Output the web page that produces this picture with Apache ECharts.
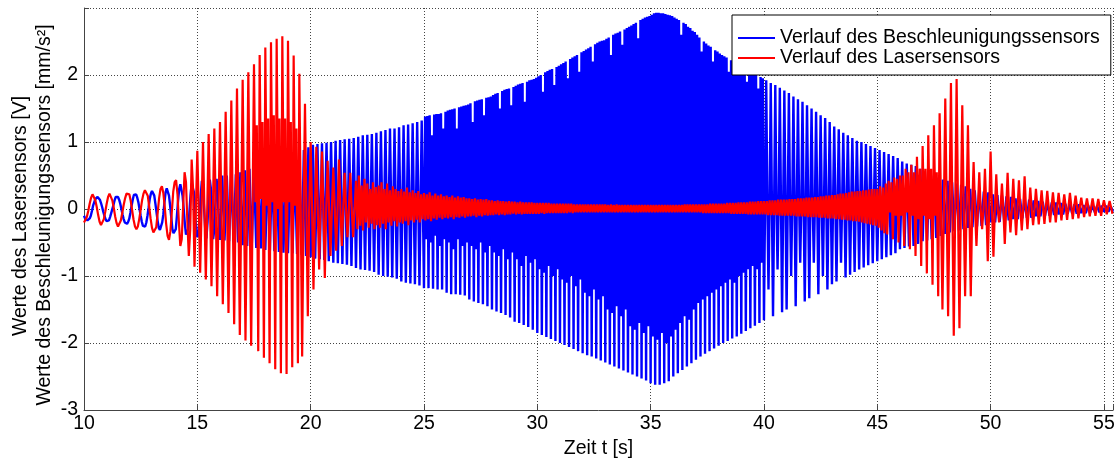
<!DOCTYPE html>
<html><head><meta charset="utf-8">
<script src="https://cdn.jsdelivr.net/npm/echarts@6/dist/echarts.min.js"></script>
<style>html,body{margin:0;padding:0;background:#fff}#c{width:1119px;height:464px}</style>
</head><body><div id="c"></div>
<script>
// ---- data ----
const tStart = 10;          // s, first sample
const tEnd = 55.4;          // s, x-axis end
const accelDt = 0.05;       // s, sample spacing of the acceleration trace
const laserDt = 0.0625;     // s, sample spacing of the laser trace
const xTicks = [10, 15, 20, 25, 30, 35, 40, 45, 50, 55];
const yTicks = [-3, -2, -1, 0, 1, 2];
const seriesNames = ['Verlauf des Beschleunigungssensors', 'Verlauf des Lasersensors'];

// Beschleunigungssensor (blue), one row per second (20 samples)
const accel = [
-0.1,-0.14,-0.16,-0.17,-0.17,-0.14,-0.1,-0.03,0.05,0.1,0.15,0.17,0.18,0.17,0.14,0.09,0.03,-0.04,-0.1,-0.15,
-0.18,-0.19,-0.17,-0.12,-0.06,0,0.06,0.13,0.18,0.19,0.18,0.14,0.08,0,-0.08,-0.15,-0.2,-0.22,-0.22,-0.19,
-0.14,-0.05,0.05,0.14,0.21,0.23,0.22,0.17,0.1,0,-0.1,-0.19,-0.25,-0.27,-0.26,-0.2,-0.1,0.02,0.15,0.23,
0.27,0.27,0.2,0.08,-0.05,-0.18,-0.28,-0.31,-0.3,-0.2,-0.08,0.1,0.25,0.31,0.3,0.2,0.05,-0.12,-0.3,-0.36,
-0.36,-0.3,-0.1,0.12,0.3,0.37,0.36,0.2,0,-0.22,-0.38,-0.4,-0.3,-0.05,0.2,0.38,0.4,0.25,-0.05,-0.3,
-0.42,-0.38,-0.1,0.2,0.42,0.3,0,-0.3,-0.44,-0.2,0.15,0.44,0.3,-0.1,-0.45,-0.3,0.1,0.45,0.2,-0.2,
-0.46,0,0.5,0,-0.47,0,0.5,0,-0.48,0,0.52,0,-0.5,0,0.52,0,-0.5,0,0.55,0,
-0.54,0,0.58,0,-0.55,0,0.6,0,-0.57,0,0.6,0,-0.58,0,0.62,0,-0.59,0,0.64,0,
-0.61,0,0.68,0,-0.62,0,0.7,0,-0.63,0,0.72,0,-0.64,0,0.74,0,-0.65,0,0.76,0,
-0.66,0,0.8,0,-0.66,0,0.82,0,-0.67,0,0.85,0,-0.68,0,0.88,0,-0.7,0.1,0.92,0.1,
-0.72,0.1,0.96,0.1,-0.74,0.1,0.97,0.1,-0.75,0.1,0.98,0.1,-0.76,0.1,0.99,0.1,-0.78,0.1,1.0,0.1,
-0.8,0.1,1.02,0.1,-0.81,0.1,1.03,0.1,-0.82,0.1,1.04,0.1,-0.83,0.1,1.05,0.1,-0.85,0.1,1.06,0.1,
-0.88,0.1,1.08,0.1,-0.9,0.1,1.1,0.1,-0.91,0.1,1.11,0.1,-0.92,0.1,1.12,0.1,-0.94,0.1,1.14,0.1,
-0.98,0.1,1.16,0.1,-1.0,0.1,1.18,0.1,-1.01,0.1,1.2,0.1,-1.02,0.1,1.2,0.1,-1.04,0.1,1.22,0.1,
-1.08,0.1,1.25,0.1,-1.1,0.1,1.26,0.1,-1.11,0.1,1.28,0.1,-1.12,0.1,1.3,0.1,-1.14,0.1,1.32,0.1,
-1.18,1.38,-0.45,1.39,-1.18,1.4,-0.5,1.1,-1.19,1.41,-0.4,1.42,-1.2,1.42,-0.55,1.43,-1.2,1.2,-0.45,1.45,
-1.25,1.47,-0.5,1.48,-1.27,1.49,-0.6,1.5,-1.27,1.2,-0.45,1.52,-1.28,1.53,-0.55,1.54,-1.29,1.55,-0.5,1.56,
-1.35,1.58,-0.55,1.3,-1.38,1.61,-0.6,1.62,-1.4,1.63,-0.5,1.64,-1.42,1.4,-0.65,1.66,-1.45,1.67,-0.55,1.68,
-1.5,1.7,-0.65,1.72,-1.53,1.73,-0.7,1.5,-1.55,1.76,-0.6,1.78,-1.58,1.79,-0.75,1.8,-1.62,1.55,-0.65,1.82,
-1.68,1.84,-0.75,1.86,-1.7,1.87,-0.85,1.88,-1.73,1.6,-0.7,1.9,-1.76,1.92,-0.8,1.93,-1.8,1.94,-0.75,1.96,
-1.85,1.98,-0.9,2.0,-1.88,1.75,-0.95,2.04,-1.91,2.06,-0.85,2.08,-1.94,2.09,-1.0,1.85,-1.97,2.12,-0.9,2.14,
-2.0,2.16,-1.05,2.18,-2.03,2.2,-1.1,1.95,-2.06,2.24,-1.0,2.26,-2.09,2.28,-1.15,2.3,-2.12,2.05,-1.05,2.34,
-2.15,2.36,-1.25,2.38,-2.18,2.4,-1.3,2.42,-2.2,2.2,-1.2,2.46,-2.23,2.48,-1.35,2.5,-2.26,2.51,-1.3,2.52,
-2.29,2.54,-1.5,2.56,-2.32,2.3,-1.55,2.6,-2.35,2.62,-1.45,2.63,-2.38,2.65,-1.6,2.45,-2.41,2.68,-1.5,2.7,
-2.44,2.72,-1.75,2.74,-2.47,2.76,-1.8,2.78,-2.5,2.55,-1.7,2.82,-2.53,2.84,-1.85,2.86,-2.56,2.87,-1.75,2.88,
-2.6,2.9,-1.9,2.92,-2.62,2.93,-1.95,2.93,-2.62,2.92,-1.85,2.92,-2.6,2.91,-2.0,2.9,-2.57,2.89,-1.9,2.88,
-2.5,2.86,-1.8,2.84,-2.45,2.82,-1.7,2.6,-2.4,2.78,-1.6,2.76,-2.35,2.72,-1.65,2.7,-2.3,2.66,-1.5,2.64,
-2.25,2.6,-1.4,2.56,-2.2,2.35,-1.35,2.5,-2.16,2.47,-1.3,2.44,-2.12,2.42,-1.25,2.2,-2.08,2.37,-1.2,2.35,
-2.04,2.32,-1.15,2.3,-2.0,2.28,-1.1,2.26,-1.97,2.05,-1.05,2.22,-1.93,2.2,-1.1,2.18,-1.9,2.16,-1.0,2.14,
-1.86,2.12,-0.95,2.1,-1.82,1.9,-0.9,2.06,-1.78,2.04,-0.85,2.02,-1.74,2.0,-0.9,1.8,-1.7,1.97,-0.8,1.95,
-1.66,0.1,1.92,0.1,-1.2,0.1,1.88,0.1,-1.6,0.1,1.85,0.1,-0.9,0.1,1.81,0.1,-1.54,0.1,1.77,0.1,
-1.5,0.1,1.73,0.1,-1.0,0.1,1.68,0.1,-1.45,0.1,1.64,0.1,-0.8,0.1,1.6,0.1,-1.38,0.1,1.55,0.1,
-1.33,0.1,1.5,0.1,-0.8,0.1,1.45,0.1,-1.27,0.1,1.4,0.1,-1.0,0.1,1.36,0.1,-1.2,0.1,1.3,0.1,
-1.12,0.1,1.23,0.1,-1.08,0.1,1.19,0.1,-0.8,0.1,1.14,0.1,-1.02,0.1,1.1,0.1,-0.98,0.1,1.06,0.1,
-0.94,0.1,1.02,0.1,-0.9,0.1,1.0,0.1,-0.87,0.1,0.97,0.1,-0.84,0.1,0.94,0.1,-0.81,0.1,0.91,0.1,
-0.78,0.05,0.88,0.05,-0.75,0.05,0.85,0.05,-0.72,0.05,0.82,0.05,-0.69,0.05,0.79,0.05,-0.66,0.05,0.76,0.05,
-0.6,0.05,0.71,0.05,-0.58,0.05,0.68,0.05,-0.56,0.05,0.66,0.05,-0.55,0.05,0.64,0.05,-0.52,0.05,0.6,0.05,
-0.48,0.04,0.56,0.04,-0.47,0.04,0.54,0.04,-0.45,0.04,0.5,0.04,-0.43,0.04,0.47,0.04,-0.4,0.04,0.44,0.04,
-0.37,0.03,0.42,0.03,-0.35,0.03,0.4,0.03,-0.33,0.03,0.38,0.03,-0.32,0.03,0.36,0.03,-0.3,0.03,0.34,0.03,
-0.28,0.02,0.3,0.02,-0.27,0.02,0.28,0.02,-0.26,0.02,0.27,0.02,-0.25,0.02,0.26,0.02,-0.24,0.02,0.25,0.02,
-0.2,0.01,0.22,0.01,-0.2,0.01,0.21,0.01,-0.19,0.01,0.2,0.01,-0.18,0.01,0.19,0.01,-0.17,0.01,0.18,0.01,
-0.15,0,0.16,0,-0.15,0,0.15,0,-0.14,0,0.15,0,-0.13,0,0.14,0,-0.13,0,0.13,0,
-0.11,0,0.12,0,-0.11,0,0.11,0,-0.1,0,0.11,0,-0.1,0,0.1,0,-0.09,0,0.1,0,
-0.08,0,0.09,0,-0.08,0,0.08,0,-0.07,0,0.08,0,-0.07,0,0.07,0,-0.07,0,0.07,0,
-0.06,0,0.06,0,-0.06,0,0.06,0,-0.05,0,0.06,0,-0.05,0,0.05,0,-0.05,0,0.05,0,
-0.04,0,0.05,0,-0.04,0,0.04,0,-0.04
];

// Lasersensor (red), one row per second (16 samples)
const laser = [
-0.2,-0.18,-0.12,-0.03,0.08,0.17,0.22,0.2,0.13,0.03,-0.09,-0.19,-0.24,-0.22,-0.15,-0.04,
0.08,0.18,0.23,0.21,0.13,0.02,-0.11,-0.21,-0.26,-0.24,-0.17,-0.06,0.06,0.16,0.23,0.25,
0.22,0.12,-0.02,-0.16,-0.26,-0.3,-0.26,-0.15,-0.01,0.13,0.23,0.28,0.28,0.2,0.04,-0.14,
-0.28,-0.35,-0.37,-0.27,-0.06,0.16,0.3,0.34,0.24,0.03,-0.22,-0.4,-0.46,-0.33,-0.04,0.26,
0.4,0.43,0.22,-0.2,-0.55,-0.45,0.05,0.55,0.4,-0.2,-0.7,-0.3,0.74,0.3,-0.86,0,
0.87,0,-0.95,0,1.0,0,-1.05,0,1.12,0,-1.15,0,1.2,0,-1.3,0,
1.3,0,-1.42,0,1.45,0,-1.55,0,1.62,0,-1.72,0,1.8,0,-1.88,0,
1.93,0,-1.96,0,2.04,0,-2.04,0,2.16,0.1,1.25,-2.12,2.3,0.15,1.3,-2.22,
2.41,0.05,1.35,-2.3,2.49,0.1,1.4,-2.39,2.54,0,1.35,-2.45,2.58,0.1,1.35,-2.46,
2.51,0.1,1.3,-2.36,2.29,0.05,1.2,-2.3,2.02,0,-2.2,0,1.57,0,-1.6,0,
1.0,0,-1.2,0,0.93,0,-0.9,0,0.86,0,-1.03,0,0.72,0,-0.7,0,
0.62,0,-0.62,0,0.74,0,-0.55,0,0.54,0,-0.42,0,0.54,0,-0.42,0,
0.42,-0.3,0.5,-0.25,0.35,-0.32,0.45,-0.2,0.38,-0.28,0.3,-0.22,0.4,-0.3,0.33,-0.24,
0.35,-0.28,0.4,-0.22,0.3,-0.3,0.38,-0.2,0.28,-0.25,0.34,-0.18,0.3,-0.26,0.27,-0.2,
0.3,-0.22,0.26,-0.18,0.32,-0.24,0.25,-0.17,0.28,-0.2,0.24,-0.16,0.27,-0.2,0.22,-0.15,
0.24,-0.17,0.22,-0.15,0.25,-0.18,0.2,-0.14,0.23,-0.16,0.2,-0.13,0.22,-0.15,0.19,-0.13,
0.2,-0.14,0.18,-0.12,0.2,-0.15,0.17,-0.12,0.19,-0.13,0.17,-0.11,0.18,-0.13,0.16,-0.11,
0.16,-0.11,0.15,-0.1,0.16,-0.12,0.14,-0.1,0.15,-0.11,0.14,-0.09,0.15,-0.1,0.13,-0.09,
0.13,-0.09,0.12,-0.08,0.13,-0.09,0.12,-0.08,0.12,-0.09,0.11,-0.08,0.12,-0.08,0.11,-0.07,
0.11,-0.08,0.1,-0.07,0.11,-0.08,0.1,-0.07,0.1,-0.07,0.1,-0.07,0.1,-0.07,0.09,-0.07,
0.09,-0.07,0.09,-0.06,0.09,-0.07,0.09,-0.06,0.09,-0.06,0.08,-0.06,0.08,-0.06,0.08,-0.06,
0.08,-0.06,0.08,-0.06,0.08,-0.06,0.08,-0.05,0.08,-0.06,0.07,-0.05,0.07,-0.05,0.07,-0.05,
0.07,-0.05,0.07,-0.05,0.07,-0.05,0.07,-0.05,0.07,-0.05,0.07,-0.05,0.07,-0.05,0.07,-0.05,
0.07,-0.05,0.06,-0.05,0.07,-0.05,0.06,-0.05,0.07,-0.05,0.06,-0.05,0.06,-0.05,0.06,-0.05,
0.06,-0.05,0.06,-0.05,0.06,-0.05,0.06,-0.05,0.06,-0.05,0.06,-0.05,0.06,-0.05,0.06,-0.05,
0.06,-0.05,0.06,-0.05,0.06,-0.05,0.06,-0.05,0.06,-0.05,0.06,-0.05,0.06,-0.05,0.06,-0.05,
0.06,-0.05,0.06,-0.05,0.06,-0.05,0.06,-0.05,0.07,-0.05,0.07,-0.05,0.07,-0.05,0.07,-0.05,
0.07,-0.05,0.07,-0.05,0.07,-0.06,0.07,-0.06,0.07,-0.06,0.08,-0.06,0.08,-0.06,0.08,-0.06,
0.08,-0.06,0.08,-0.06,0.08,-0.06,0.09,-0.06,0.09,-0.07,0.09,-0.07,0.09,-0.07,0.1,-0.07,
0.1,-0.07,0.1,-0.07,0.1,-0.08,0.11,-0.08,0.11,-0.08,0.11,-0.08,0.12,-0.08,0.12,-0.08,
0.12,-0.08,0.12,-0.09,0.13,-0.09,0.13,-0.09,0.13,-0.09,0.14,-0.1,0.14,-0.1,0.14,-0.1,
0.14,-0.1,0.15,-0.1,0.15,-0.1,0.15,-0.11,0.16,-0.11,0.16,-0.11,0.16,-0.11,0.17,-0.12,
0.17,-0.12,0.17,-0.12,0.18,-0.12,0.18,-0.13,0.19,-0.13,0.19,-0.13,0.2,-0.14,0.2,-0.14,
0.21,-0.14,0.21,-0.15,0.22,-0.15,0.23,-0.16,0.23,-0.16,0.24,-0.17,0.25,-0.17,0.26,-0.18,
0.26,-0.18,0.27,-0.19,0.27,-0.2,0.28,-0.21,0.28,-0.22,0.29,-0.23,0.3,-0.24,0.3,-0.25,
0.3,-0.28,0.34,-0.32,0.32,-0.36,0.38,-0.38,0.42,-0.05,0.4,-0.45,0.47,-0.1,0.45,-0.5,
0.5,-0.1,0.5,-0.55,0.6,-0.05,0.55,-0.6,0.66,-0.1,0.55,-0.7,0.78,-0.15,0.6,-0.85,
0.94,-0.1,0.6,-0.96,1.1,-0.15,0.6,-1.13,1.25,-0.1,0.55,-1.3,1.43,0,-1.5,0,
1.65,0,-1.6,0,1.88,0,-1.89,0,1.94,0,-1.78,0,1.55,0,-1.3,0,
1.25,0,-1.3,0,0.7,0,-0.55,0,0.55,0,-0.3,0,0.6,0,-0.78,0,
0.86,0,-0.71,0,0.52,0,-0.2,0,0.38,0,-0.52,0,0.54,0,-0.35,0,
0.45,0,-0.39,0,0.43,0,-0.32,0,0.49,0,-0.3,0,0.32,0,-0.24,0,
0.3,0.03,-0.23,0.03,0.28,0.03,-0.22,0.03,0.27,0.03,-0.2,0.03,0.25,0.03,-0.2,0.03,
0.24,0.04,-0.17,0.04,0.22,0.04,-0.16,0.04,0.24,0.04,-0.15,0.04,0.2,0.04,-0.14,0.04,
0.17,0.03,-0.12,0.03,0.16,0.03,-0.11,0.03,0.16,0.03,-0.1,0.03,0.15,0.03,-0.1,0.03,
0.13,0.03,-0.08,0.03,0.12,0.03,-0.07
];

// ---- build chart ----
const FONT = '"Liberation Sans", Arial, sans-serif';
const accelData = accel.map((v, i) => [tStart + i * accelDt, v]);
const laserData = laser.map((v, i) => [tStart + i * laserDt, v]);

const chart = echarts.init(document.getElementById('c'), null, {renderer: 'canvas'});
const gridLine = {show: true, lineStyle: {color: '#444', type: [1, 2], width: 1}};
chart.setOption({
  animation: false,
  backgroundColor: '#fff',
  textStyle: {fontFamily: FONT},
  grid: {left: 84, right: 6, top: 8, bottom: 49},
  legend: {
    data: seriesNames, orient: 'vertical', left: 732, top: 15,
    icon: 'rect', itemWidth: 37, itemHeight: 2, itemGap: 0,
    padding: [13, 11, 7, 6],
    borderColor: '#000', borderWidth: 1, backgroundColor: '#fff',
    textStyle: {fontFamily: FONT, fontSize: 19.5, color: '#000', lineHeight: 19},
    selectedMode: false
  },
  xAxis: {
    type: 'value', min: tStart, max: tEnd, interval: 5,
    name: 'Zeit t [s]', nameLocation: 'middle', nameGap: 25,
    nameTextStyle: {fontFamily: FONT, fontSize: 19.5, color: '#000'},
    axisLine: {onZero: false, lineStyle: {color: '#444', width: 1}},
    axisTick: {inside: true, length: 5, lineStyle: {color: '#444'}},
    axisLabel: {fontFamily: FONT, fontSize: 19.5, color: '#000', margin: 4,
      formatter: v => (xTicks.indexOf(Math.round(v * 1000) / 1000) >= 0 ? String(v) : '')},
    splitLine: gridLine
  },
  yAxis: {
    type: 'value', min: -3, max: 3, interval: 1,
    axisLine: {show: true, onZero: false, lineStyle: {color: '#444', width: 1}},
    axisTick: {show: true, inside: true, length: 5, lineStyle: {color: '#444'}},
    axisLabel: {fontFamily: FONT, fontSize: 19.5, color: '#000', margin: 6,
      formatter: v => (yTicks.indexOf(v) >= 0 ? String(v) : '')},
    splitLine: gridLine
  },
  graphic: [
    {type: 'text', x: 21, y: 216, rotation: Math.PI / 2,
     style: {text: 'Werte des Lasersensors [V]', fontFamily: FONT, fontSize: 19.5,
       fill: '#000', align: 'center', verticalAlign: 'middle'}},
    {type: 'text', x: 45, y: 215, rotation: Math.PI / 2,
     style: {text: 'Werte des Beschleunigungssensors [mm/s\u00B2]', fontFamily: FONT, fontSize: 19.5,
       fill: '#000', align: 'center', verticalAlign: 'middle'}}
  ],
  series: [
    {name: seriesNames[0], type: 'line', data: accelData, showSymbol: false, symbol: 'none',
     color: '#0000ff', lineStyle: {color: '#0000ff', width: 2.4}, clip: true, silent: true},
    {name: seriesNames[1], type: 'line', data: laserData, showSymbol: false, symbol: 'none',
     color: '#ff0000', lineStyle: {color: '#ff0000', width: 2.2}, clip: true, silent: true}
  ]
});
</script>
</body></html>
